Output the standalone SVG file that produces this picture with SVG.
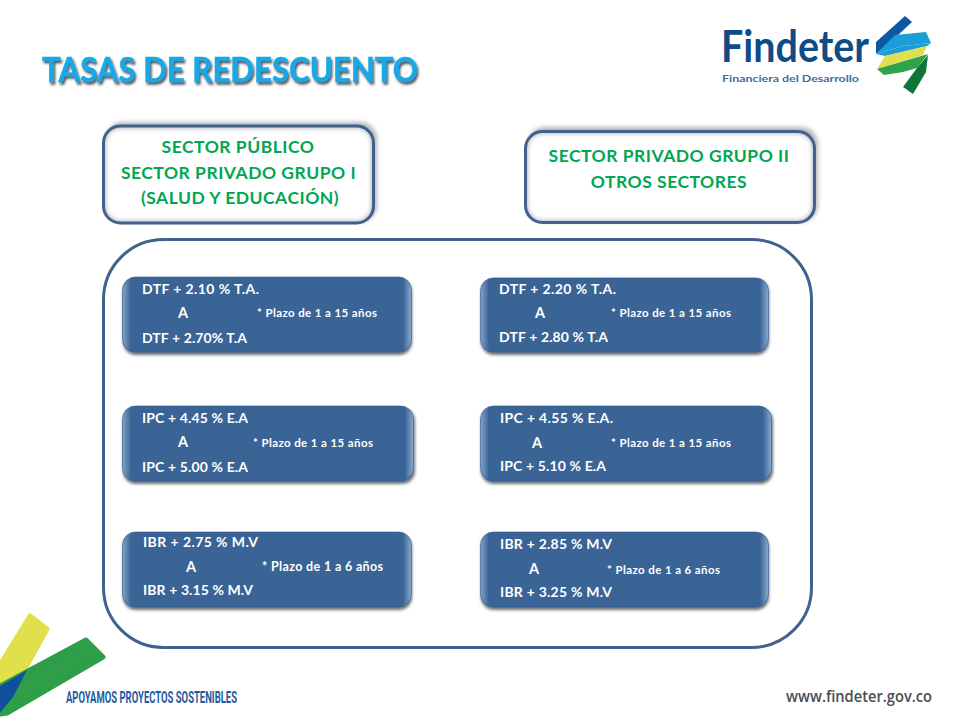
<svg xmlns="http://www.w3.org/2000/svg" width="960" height="720" viewBox="0 0 960 720">
<defs>
<filter id="sh" x="-10%" y="-15%" width="120%" height="130%"><feGaussianBlur stdDeviation="1.6"/></filter>
<filter id="blur" x="-5%" y="-10%" width="110%" height="120%"><feGaussianBlur stdDeviation="2"/></filter>
<filter id="tsh" x="-5%" y="-20%" width="110%" height="150%"><feDropShadow dx="1.5" dy="2.5" stdDeviation="1.3" flood-color="#4f5862"/></filter>
<clipPath id="ca"><rect x="103.500" y="126" width="270" height="97" rx="17"/></clipPath>
<clipPath id="cb"><rect x="525.500" y="131.500" width="289" height="91" rx="17"/></clipPath>
<linearGradient id="edge" x1="0" x2="1" y1="0" y2="0"><stop offset="0" stop-color="#7fa3cb"/><stop offset="0.03" stop-color="#3a6396"/><stop offset="0.97" stop-color="#3a6396"/><stop offset="1" stop-color="#8aabd0"/></linearGradient>
<style>
text{font-family:"Lato","Open Sans","Liberation Sans",sans-serif;font-weight:700}
.head{fill:#00a651;font-size:17.5px;text-anchor:middle;letter-spacing:.5px}
.v{fill:#fff;font-size:14px}
.a{fill:#fff;font-size:14.5px}
.s{fill:#fff;font-size:11.5px}
.card{fill:none;stroke:#41618f;stroke-width:3}
.cardsh{fill:#b4b7bd}
.inner{fill:none;stroke:#b9bcc2;stroke-width:5}
.rate{fill:url(#edge);stroke:#2f5a8f;stroke-width:.6}
.rsh{fill:#6c7078}
</style>
</defs>
<rect width="960" height="720" fill="#fff"/>

<g id="title">
<text x="42" y="82" font-size="34" fill="#19a9e5" stroke="#19a9e5" stroke-width=".5" filter="url(#tsh)" textLength="376" lengthAdjust="spacingAndGlyphs">TASAS DE REDESCUENTO</text>
</g>

<g id="logo">
<text x="721" y="62" font-size="44.5" fill="#0f4b87" textLength="148" lengthAdjust="spacingAndGlyphs">Findeter</text>
<text x="722" y="81.500" font-size="9.5" fill="#3f6f97" textLength="137" lengthAdjust="spacingAndGlyphs">Financiera del Desarrollo</text>
<polygon points="905,16 912,22 897,36 876,54 876,42" fill="#0f57a3"/>
<polygon points="876,54 895,35 926,32 931,43 903,46" fill="#1b9ed8"/>
<polygon points="876,54 903,46 931,43 927,46 885,56" fill="#1b9ed8"/>
<polygon points="885,56 927,46 923,55 877,69" fill="#dfe04e"/>
<polygon points="877,69 928,54 917,68 903,72 884,75" fill="#2fa24a"/>
<polygon points="903,87 917,68 928,55 926,72 913,94" fill="#0f7438"/>
</g>

<g id="corner">
<path d="M30,616 L47,629 L25,669 L0,685 L0,665 Z" fill="#dfe04a" stroke="#dfe04a" stroke-width="5" stroke-linejoin="round"/>
<path d="M86,640 L103,657 L7,713 L0,714 L0,686 Z" fill="#2e9f48" stroke="#2e9f48" stroke-width="5" stroke-linejoin="round"/>
<polygon points="0,686 27,670 13,697 0,713" fill="#0f4f9c"/>
<text x="66" y="703" font-size="16.5" fill="#1f5ba0" style="font-family:'Roboto','Liberation Sans',sans-serif;font-weight:700" textLength="171" lengthAdjust="spacingAndGlyphs">APOYAMOS PROYECTOS SOSTENIBLES</text>
</g>
<text id="web" x="786" y="702" font-size="15.5" fill="#4a4d52" style="font-family:'Open Sans','Liberation Sans',sans-serif;font-weight:600" textLength="146" lengthAdjust="spacingAndGlyphs">www.findeter.gov.co</text>

<g id="panel"><rect x="103.500" y="239.500" width="708" height="408" rx="60" fill="none" stroke="#41618f" stroke-width="3"/></g>

<g id="sector-a">
<rect x="106" y="122" width="271" height="100" rx="17" class="cardsh" filter="url(#blur)"/>
<rect x="103.500" y="126" width="270" height="97" rx="17" fill="#fff"/>
<g clip-path="url(#ca)"><rect x="103.500" y="126" width="270" height="97" rx="17" class="inner" filter="url(#blur)"/></g>
<rect x="103.500" y="126" width="270" height="97" rx="17" class="card"/>
<text class="head" x="238" y="153">SECTOR PÚBLICO</text>
<text class="head" x="238.500" y="179">SECTOR PRIVADO GRUPO I</text>
<text class="head" x="240" y="204">(SALUD Y EDUCACIÓN)</text>
</g>
<g id="sector-b">
<rect x="528" y="127" width="290" height="95" rx="17" class="cardsh" filter="url(#blur)"/>
<rect x="525.500" y="131.500" width="289" height="91" rx="17" fill="#fff"/>
<g clip-path="url(#cb)"><rect x="525.500" y="131.500" width="289" height="91" rx="17" class="inner" filter="url(#blur)"/></g>
<rect x="525.500" y="131.500" width="289" height="91" rx="17" class="card"/>
<text class="head" x="669" y="162">SECTOR PRIVADO GRUPO II</text>
<text class="head" x="669" y="188">OTROS SECTORES</text>
</g>

<g id="rate-1">
<rect x="123" y="279" width="289" height="76" rx="13" class="rsh" filter="url(#sh)"/>
<rect x="122.500" y="277" width="289" height="75" rx="13" class="rate"/>
<text class="v" x="142" y="294" textLength="117">DTF +  2.10 % T.A.</text>
<text class="a" x="178" y="318">A</text>
<text class="s" x="257" y="317" textLength="120">* Plazo  de 1 a 15 años</text>
<text class="v" x="142" y="343" textLength="105">DTF + 2.70% T.A</text>
</g>
<g id="rate-2">
<rect x="481" y="279" width="288" height="76" rx="13" class="rsh" filter="url(#sh)"/>
<rect x="480.500" y="278" width="288" height="74" rx="13" class="rate"/>
<text class="v" x="499" y="294" textLength="117">DTF +  2.20 % T.A.</text>
<text class="a" x="535" y="318">A</text>
<text class="s" x="611" y="317" textLength="120">* Plazo de 1 a 15 años</text>
<text class="v" x="499" y="342" textLength="109">DTF + 2.80 % T.A</text>
</g>
<g id="rate-3">
<rect x="123" y="408" width="292" height="76" rx="13" class="rsh" filter="url(#sh)"/>
<rect x="122.500" y="406" width="291" height="75" rx="13" class="rate"/>
<text class="v" x="142" y="423" textLength="106">IPC + 4.45 % E.A</text>
<text class="a" x="178" y="447">A</text>
<text class="s" x="253" y="447" textLength="120">* Plazo de 1 a 15 años</text>
<text class="v" x="142" y="472" textLength="106">IPC + 5.00 % E.A</text>
</g>
<g id="rate-4">
<rect x="481" y="408" width="292" height="76" rx="13" class="rsh" filter="url(#sh)"/>
<rect x="480.500" y="406" width="291" height="75" rx="13" class="rate"/>
<text class="v" x="500" y="423" textLength="113">IPC +  4.55 % E.A.</text>
<text class="a" x="532" y="448">A</text>
<text class="s" x="611" y="447" textLength="120">* Plazo de 1 a 15 años</text>
<text class="v" x="500" y="471" textLength="106">IPC + 5.10 % E.A</text>
</g>
<g id="rate-5">
<rect x="123" y="534" width="289" height="76" rx="13" class="rsh" filter="url(#sh)"/>
<rect x="122.500" y="532" width="289" height="75" rx="13" class="rate"/>
<text class="v" x="143" y="547" textLength="115">IBR +  2.75 % M.V</text>
<text class="a" x="186" y="572">A</text>
<text class="s" style="font-size:12.5px" x="262" y="571" textLength="121">* Plazo de 1 a 6 años</text>
<text class="v" x="143" y="595" textLength="110">IBR + 3.15 % M.V</text>
</g>
<g id="rate-6">
<rect x="481" y="534" width="288" height="76" rx="13" class="rsh" filter="url(#sh)"/>
<rect x="480.500" y="532" width="288" height="75" rx="13" class="rate"/>
<text class="v" x="500" y="549" textLength="112">IBR + 2.85 % M.V</text>
<text class="a" x="529" y="574">A</text>
<text class="s" x="607" y="574" textLength="113">* Plazo de 1 a 6 años</text>
<text class="v" x="500" y="597" textLength="112">IBR + 3.25 % M.V</text>
</g>
</svg>
